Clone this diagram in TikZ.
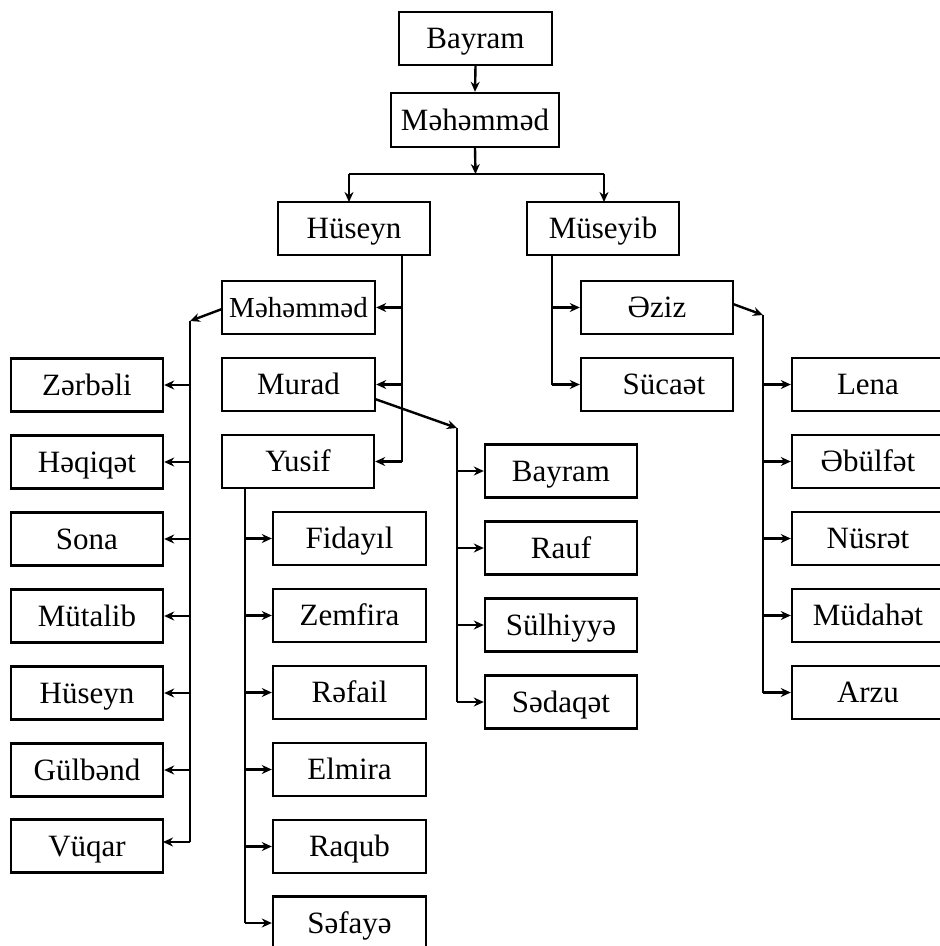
\documentclass[tikz,border=0pt]{standalone}
\usepackage{fontspec}
\setmainfont{Liberation Serif}
\usetikzlibrary{arrows.meta}
\tikzset{
  namebox/.style={draw, line width=2.4pt, minimum width=152pt, minimum height=53pt, inner sep=0pt,
    text height=20.5pt, text depth=0pt, font=\fontsize{31}{37}\selectfont},
  link/.style={line width=2.4pt},
  arr/.style={line width=2.4pt, -{Stealth[length=10pt,width=9pt]}},
}
\begin{document}
\begin{tikzpicture}[x=1pt,y=-1pt]
\useasboundingbox (0,0) rectangle (940,946);
\clip (0,0) rectangle (940,946);
% top
\node[namebox, minimum width=153pt] (b1) at (475.5,38.5) {Bayram};
\node[namebox, minimum width=168pt, minimum height=54pt] (m1) at (475,120) {Məhəmməd};
\node[namebox] (h1) at (354,228.5) {Hüseyn};
\node[namebox] (mu) at (603,228.5) {Müseyib};
% Hüseyn's children
\node[namebox, minimum width=153pt, font=\fontsize{29}{35}\selectfont] (m2) at (298.5,307.5) {Məhəmməd};
\node[namebox, minimum width=153pt] (mr) at (298.5,384.5) {Murad};
\node[namebox] (ys) at (298,461.5) {Yusif};
% Müseyib's children
\node[namebox] (ez) at (657,307.5) {Əziz};
\node[namebox] (sc) at (657,384.5) {\hspace{14pt}Sücaət};
% Məhəmməd's children
\node[namebox] (l1) at (87,385) {Zərbəli};
\node[namebox] (l2) at (87,462) {Həqiqət};
\node[namebox] (l3) at (87,539) {Sona};
\node[namebox] (l4) at (87,616) {Mütalib};
\node[namebox] (l5) at (87,693) {Hüseyn};
\node[namebox] (l6) at (87,770) {Gülbənd};
\node[namebox] (l7) at (87,846) {Vüqar};
% Yusif's children
\node[namebox, minimum width=153pt] (y1) at (349.5,538.5) {Fidayıl};
\node[namebox, minimum width=153pt] (y2) at (349.5,615.5) {Zemfira};
\node[namebox, minimum width=153pt] (y3) at (349.5,692.5) {Rəfail};
\node[namebox, minimum width=153pt] (y4) at (349.5,769.5) {Elmira};
\node[namebox, minimum width=153pt] (y5) at (349.5,846.5) {Raqub};
\node[namebox, minimum width=153pt] (y6) at (349.5,923) {Səfayə};
% Murad's children
\node[namebox] (r1) at (561,471) {Bayram};
\node[namebox] (r2) at (561,548) {Rauf};
\node[namebox] (r3) at (561,625) {Sülhiyyə};
\node[namebox] (r4) at (561,702) {Sədaqət};
% Əziz's children
\node[namebox] (e1) at (868,384.5) {Lena};
\node[namebox] (e2) at (868,461.5) {Əbülfət};
\node[namebox] (e3) at (868,538.5) {Nüsrət};
\node[namebox] (e4) at (868,615.5) {Müdahət};
\node[namebox] (e5) at (868,692.5) {Arzu};

% junction coordinates
\coordinate (tj) at (475.5,174);
\coordinate (hj) at (402,255);
\coordinate (mj) at (190,321);
\coordinate (rj) at (457,428);
\coordinate (yj) at (245,488);
\coordinate (uj) at (552,255);
\coordinate (zj) at (763,315);

% top connectors
\draw[arr] (b1.south) -- (m1.north);
\draw[arr] (m1.south) -- (tj);
\draw[link] (349,174) -- (604,174);
\draw[arr] (349,174) -- (349,202);
\draw[arr] (604,174) -- (604,202);

% Hüseyn
\draw[link] (hj) -- (hj |- ys.east);
\draw[arr] (hj |- m2.east) -- (m2.east);
\draw[arr] (hj |- mr.east) -- (mr.east);
\draw[arr] (hj |- ys.east) -- (ys.east);

% Məhəmməd (2)
\draw[arr] (222,309) -- (mj);
\draw[link] (mj) -- (190,842);
\foreach \n in {l1,l2,l3,l4,l5,l6}{\draw[arr] (mj |- \n.east) -- (\n.east);}
\draw[arr] (190,842) -- (163,842);

% Murad
\draw[arr] (375,399) -- (rj);
\draw[link] (rj) -- (rj |- r4.west);
\foreach \n in {r1,r2,r3,r4}{\draw[arr] (rj |- \n.west) -- (\n.west);}

% Yusif
\draw[link] (yj) -- (yj |- y6.west);
\foreach \n in {y1,y2,y3,y4,y5,y6}{\draw[arr] (yj |- \n.west) -- (\n.west);}

% Müseyib
\draw[link] (uj) -- (uj |- sc.west);
\draw[arr] (uj |- ez.west) -- (ez.west);
\draw[arr] (uj |- sc.west) -- (sc.west);

% Əziz
\draw[arr] (733,304) -- (zj);
\draw[link] (zj) -- (zj |- e5.west);
\foreach \n in {e1,e2,e3,e4,e5}{\draw[arr] (zj |- \n.west) -- (\n.west);}
\end{tikzpicture}
\end{document}
